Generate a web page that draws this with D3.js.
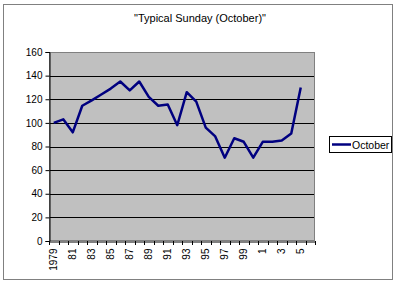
<!DOCTYPE html>
<html><head><meta charset="utf-8">
<script src="https://cdn.jsdelivr.net/npm/d3@7"></script>
<style>body{margin:0;background:#fff;}svg{display:block;font-family:"Liberation Sans",Arial,sans-serif;}</style>
</head><body>
<svg id="c" width="400" height="289"></svg>
<script>
const categories = ["1979","1980","1981","1982","1983","1984","1985","1986","1987","1988","1989","1990","1991","1992","1993","1994","1995","1996","1997","1998","1999","2000","2001","2002","2003","2004","2005","2006"];
const tickLabels = ["1979","","81","","83","","85","","87","","89","","91","","93","","95","","97","","99","","1","","3","","5",""];
const octoberValues = [100,103,92,114.5,119,124,129,135,127.5,135,122,114.5,115.5,98,126,118,96,88.5,70.5,87,84,70.5,84,84,85,91,130];
const yTicks = [0,20,40,60,80,100,120,140,160];
const seriesName = "October";
const title = "\"Typical Sunday (October)\"";

const svg = d3.select("#c");
svg.append("rect").attr("x",3.5).attr("y",4.5).attr("width",389).attr("height",275)
  .attr("fill","#fff").attr("stroke","#808080").attr("stroke-width",1);

svg.append("text").attr("x",200).attr("y",22).attr("text-anchor","middle")
  .attr("font-size",11).attr("fill","#000").text(title);

const L=49, R=315, T=52, B=241;
const x = d3.scaleBand().domain(categories).range([L,R]);
const y = d3.scaleLinear().domain([0,160]).range([B,T]);

svg.append("rect").attr("x",L).attr("y",T).attr("width",R-L).attr("height",B-T).attr("fill","#c0c0c0");

svg.append("g").selectAll("line").data(yTicks.filter(d=>d>0)).join("line")
  .attr("x1",L).attr("x2",R).attr("y1",d=>Math.round(y(d))+0.5).attr("y2",d=>Math.round(y(d))+0.5)
  .attr("stroke","#000").attr("stroke-width",1);

svg.append("rect").attr("x",L+0.5).attr("y",T+0.5).attr("width",R-L-1).attr("height",B-T-1)
  .attr("fill","none").attr("stroke","#808080");

// y axis
const yAxis = svg.append("g").attr("transform",`translate(${L+0.5},0)`)
  .call(d3.axisLeft(y).tickValues(yTicks).tickSize(4).tickPadding(3).tickFormat(d3.format("d")));
yAxis.select(".domain").attr("stroke","#000");
yAxis.selectAll(".tick line").attr("stroke","#000");
yAxis.selectAll("text").attr("font-size",10).attr("fill","#000").attr("font-family","Liberation Sans, Arial, sans-serif");

// x axis
const xAxis = svg.append("g").attr("transform",`translate(0,${B+0.5})`)
  .call(d3.axisBottom(x).tickSize(0).tickFormat((d,i)=>tickLabels[i]));
xAxis.select(".domain").attr("stroke","#000");
xAxis.selectAll("text").attr("font-size",10).attr("fill","#000").attr("font-family","Liberation Sans, Arial, sans-serif")
  .attr("transform","rotate(-90)").attr("text-anchor","end").attr("x",-7).attr("y",0).attr("dy","0.35em");
const bounds = categories.map(c=>x(c)).concat([R]);
svg.append("g").selectAll("line").data(bounds).join("line")
  .attr("x1",d=>Math.round(d)+0.5).attr("x2",d=>Math.round(d)+0.5).attr("y1",B).attr("y2",B+4)
  .attr("stroke","#000");

// line
const pts = octoberValues.map((v,i)=>[x(categories[i])+x.bandwidth()/2, y(v)]);
svg.append("path").datum(pts).attr("d",d3.line()).attr("fill","none")
  .attr("stroke","#000080").attr("stroke-width",2.5).attr("stroke-linejoin","round");

// legend
svg.append("rect").attr("x",329.5).attr("y",136.5).attr("width",62).attr("height",16)
  .attr("fill","#fff").attr("stroke","#000");
svg.append("line").attr("x1",332).attr("x2",351).attr("y1",144.5).attr("y2",144.5)
  .attr("stroke","#000080").attr("stroke-width",2.5);
svg.append("text").attr("x",352).attr("y",148.5).attr("font-size",10.5).attr("fill","#000").text(seriesName);
</script>
</body></html>
